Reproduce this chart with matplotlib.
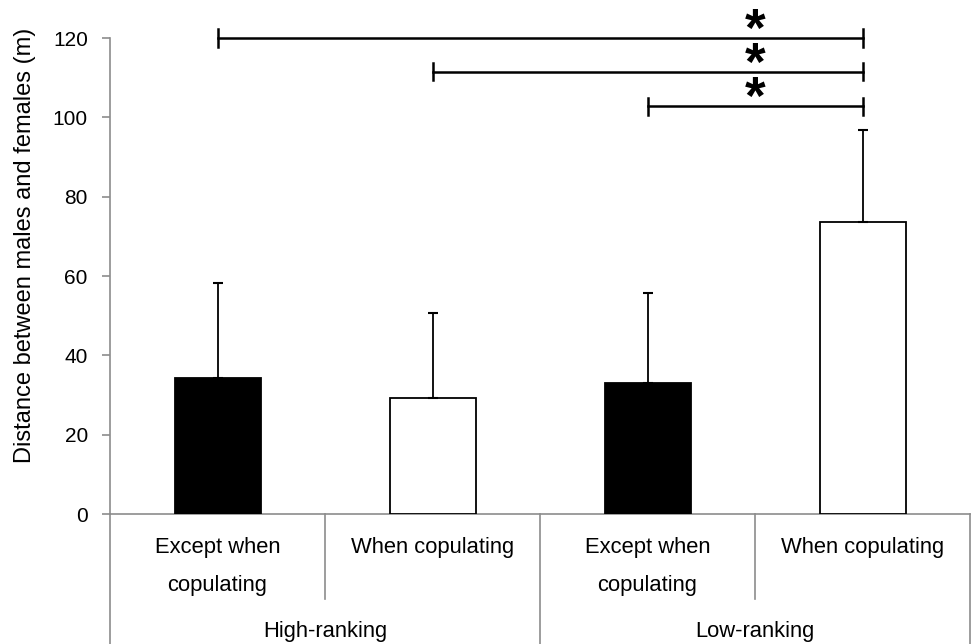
import matplotlib
matplotlib.use("Agg")
import matplotlib.pyplot as plt
import matplotlib.transforms as mtransforms

plt.rcParams['font.family'] = ['Liberation Sans', 'DejaVu Sans']

# Data
conditions = ["Except when\ncopulating", "When copulating", "Except when\ncopulating", "When copulating"]
groups = ["High-ranking", "Low-ranking"]
means = [34.3, 29.3, 33.1, 73.6]
errors = [24.0, 21.4, 22.7, 23.2]
bar_colors = ["black", "white", "black", "white"]
sig_pairs = [(0, 3, 120.0), (1, 3, 111.5), (2, 3, 102.8)]
sig_label = "*"
yticks = [0, 20, 40, 60, 80, 100, 120]
ylabel = "Distance between males and females (m)"

W, H = 972, 644
fig = plt.figure(figsize=(W / 100, H / 100), dpi=100)
ax_left, ax_right, ax_bottom, ax_top = 110, 970, 514, 38
ax = fig.add_axes([ax_left / W, (H - ax_bottom) / H, (ax_right - ax_left) / W, (ax_bottom - ax_top) / H])

gray = "#8c8c8c"
x = list(range(len(means)))
ax.bar(x, means, width=0.4, color=bar_colors, edgecolor="black", linewidth=1.3, zorder=3)
ax.errorbar(x, means, yerr=[[0] * len(errors), errors], fmt="none", ecolor="black",
            elinewidth=1.3, capsize=3.5, capthick=1.5, zorder=4)

ax.set_xlim(-0.5, 3.5)
ax.set_ylim(0, 120)
ax.set_yticks(yticks)
ax.set_yticklabels([str(t) for t in yticks], fontsize=15)
ax.set_xticks([])
for s in ["top", "right"]:
    ax.spines[s].set_visible(False)
ax.spines["left"].set_color(gray)
ax.spines["bottom"].set_color(gray)
ax.spines["left"].set_linewidth(1.2)
ax.spines["bottom"].set_linewidth(1.2)
ax.tick_params(axis="y", direction="out", length=6, width=1.2, color=gray, pad=10)
fig.text(25 / W, 1 - 245 / H, ylabel, rotation=90, ha="center", va="center", fontsize=17)

# significance bars
for a, b, y in sig_pairs:
    ax.plot([a, b], [y, y], color="black", lw=1.8, clip_on=False, zorder=5)
    for xx in (a, b):
        ax.plot([xx, xx], [y - 2.2, y + 2.2], color="black", lw=1.8, clip_on=False, zorder=5)
    ax.text(2.5, y - 2.0, sig_label, ha="center", va="baseline", fontsize=38, fontweight="bold",
            clip_on=False)

# table-like category axis below
trans = mtransforms.blended_transform_factory(ax.transData, ax.transAxes)
px = ax_bottom - ax_top
def ya(ypix):
    return (ax_bottom - ypix) / px

bottom = ya(H)
mid = ya(599)
for xx in (-0.5, 1.5, 3.5):
    ax.plot([xx, xx], [0, bottom], color=gray, lw=1.2, transform=trans, clip_on=False)
for xx in (0.5, 2.5):
    ax.plot([xx, xx], [0, mid], color=gray, lw=1.2, transform=trans, clip_on=False)

for i, lab in enumerate(conditions):
    lines = lab.split("\n")
    for j, ln in enumerate(lines):
        ax.text(i, ya(547 + 38 * j), ln, ha="center", va="center", fontsize=15.8, transform=trans)
for g, lab in enumerate(groups):
    ax.text(0.5 + 2 * g, ya(632), lab, ha="center", va="center", fontsize=15.8, transform=trans)

fig.savefig("out.png", dpi=100)
